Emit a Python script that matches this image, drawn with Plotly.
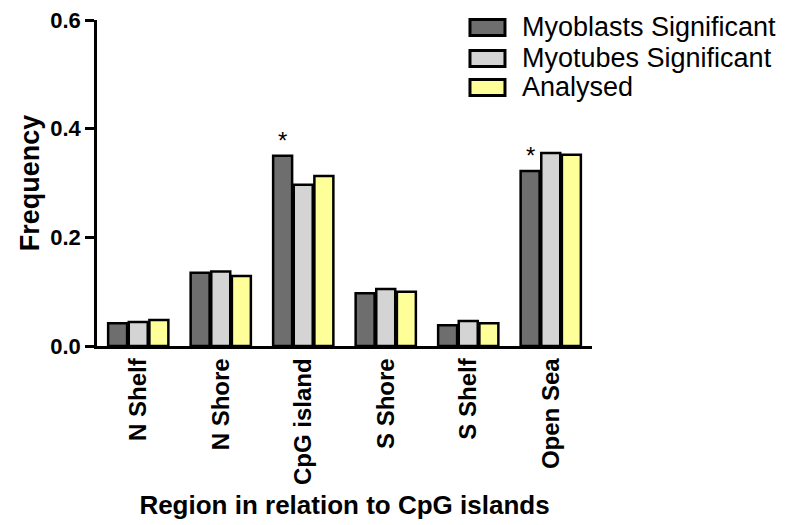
import plotly.graph_objects as go

categories = ["N Shelf", "N Shore", "CpG island", "S Shore", "S Shelf", "Open Sea"]
myoblasts = [0.042, 0.135, 0.350, 0.097, 0.038, 0.322]
myotubes = [0.044, 0.137, 0.297, 0.105, 0.046, 0.355]
analysed = [0.048, 0.129, 0.313, 0.100, 0.042, 0.352]
series_names = ["Myoblasts Significant", "Myotubes Significant", "Analysed"]
significant_myoblasts = ["CpG island", "Open Sea"]
y_ticks = [0.0, 0.2, 0.4, 0.6]

FONT = "Liberation Sans, Arial, sans-serif"
colors = ["#6e6e6e", "#d4d4d4", "#ffff99"]

fig = go.Figure()
for name, vals, col in zip(series_names, [myoblasts, myotubes, analysed], colors):
    fig.add_trace(go.Bar(
        x=categories, y=vals, name=name, showlegend=False,
        marker=dict(color=col, line=dict(color="black", width=2.5)),
    ))

bargap = 0.25
slot = (1 - bargap) / 3
for cat in significant_myoblasts:
    i = categories.index(cat)
    fig.add_annotation(
        x=i - slot, y=myoblasts[i], xref="x", yref="y",
        text="*", showarrow=False, yanchor="bottom", yshift=0,
        font=dict(family=FONT, size=24, color="black"),
    )

# plot area: 495 x 326 px
# legend drawn as key boxes + labels (paper coordinates)
leg_rows_y = [0.977, 0.882, 0.793]
box_x0, box_x1, box_half_h = 0.7535, 0.8242, 0.0245
text_x = 0.855
for name, col, yc in zip(series_names, colors, leg_rows_y):
    fig.add_shape(type="rect", xref="paper", yref="paper",
                  x0=box_x0, x1=box_x1, y0=yc - box_half_h, y1=yc + box_half_h,
                  fillcolor=col, line=dict(color="black", width=3))
    fig.add_annotation(x=text_x, y=yc, xref="paper", yref="paper",
                       text=name, showarrow=False, xanchor="left", yanchor="middle",
                       font=dict(family=FONT, size=27, color="black"))

fig.update_layout(
    width=798, height=525,
    margin=dict(l=89, r=214, t=12, b=187, autoexpand=False),
    plot_bgcolor="white", paper_bgcolor="white",
    barmode="group", bargap=bargap, bargroupgap=0.08,
    font=dict(family=FONT, color="black"),
    showlegend=False,
)
fig.update_xaxes(
    type="category", range=[-0.5, 5.5],
    showline=True, linecolor="black", linewidth=2.5,
    ticks="", tickangle=-90, ticklabeloverflow="allow",
    tickfont=dict(family=FONT, size=24, color="black", weight="bold"),
    title=dict(text="Region in relation to CpG islands", standoff=12,
               font=dict(family=FONT, size=26, color="black", weight="bold")),
    showgrid=False, zeroline=False, automargin=False,
)
fig.update_yaxes(
    range=[0, 0.6], tickvals=y_ticks, ticktext=[f"{v:.1f}" for v in y_ticks],
    showline=True, linecolor="black", linewidth=2.5,
    ticks="outside", ticklen=9, tickwidth=2.5, tickcolor="black",
    ticklabeloverflow="allow",
    tickfont=dict(family=FONT, size=22, color="black", weight="bold"),
    title=dict(text="Frequency", standoff=3,
               font=dict(family=FONT, size=27, color="black", weight="bold")),
    showgrid=False, zeroline=False, automargin=False,
)

fig.write_html("out.html")
